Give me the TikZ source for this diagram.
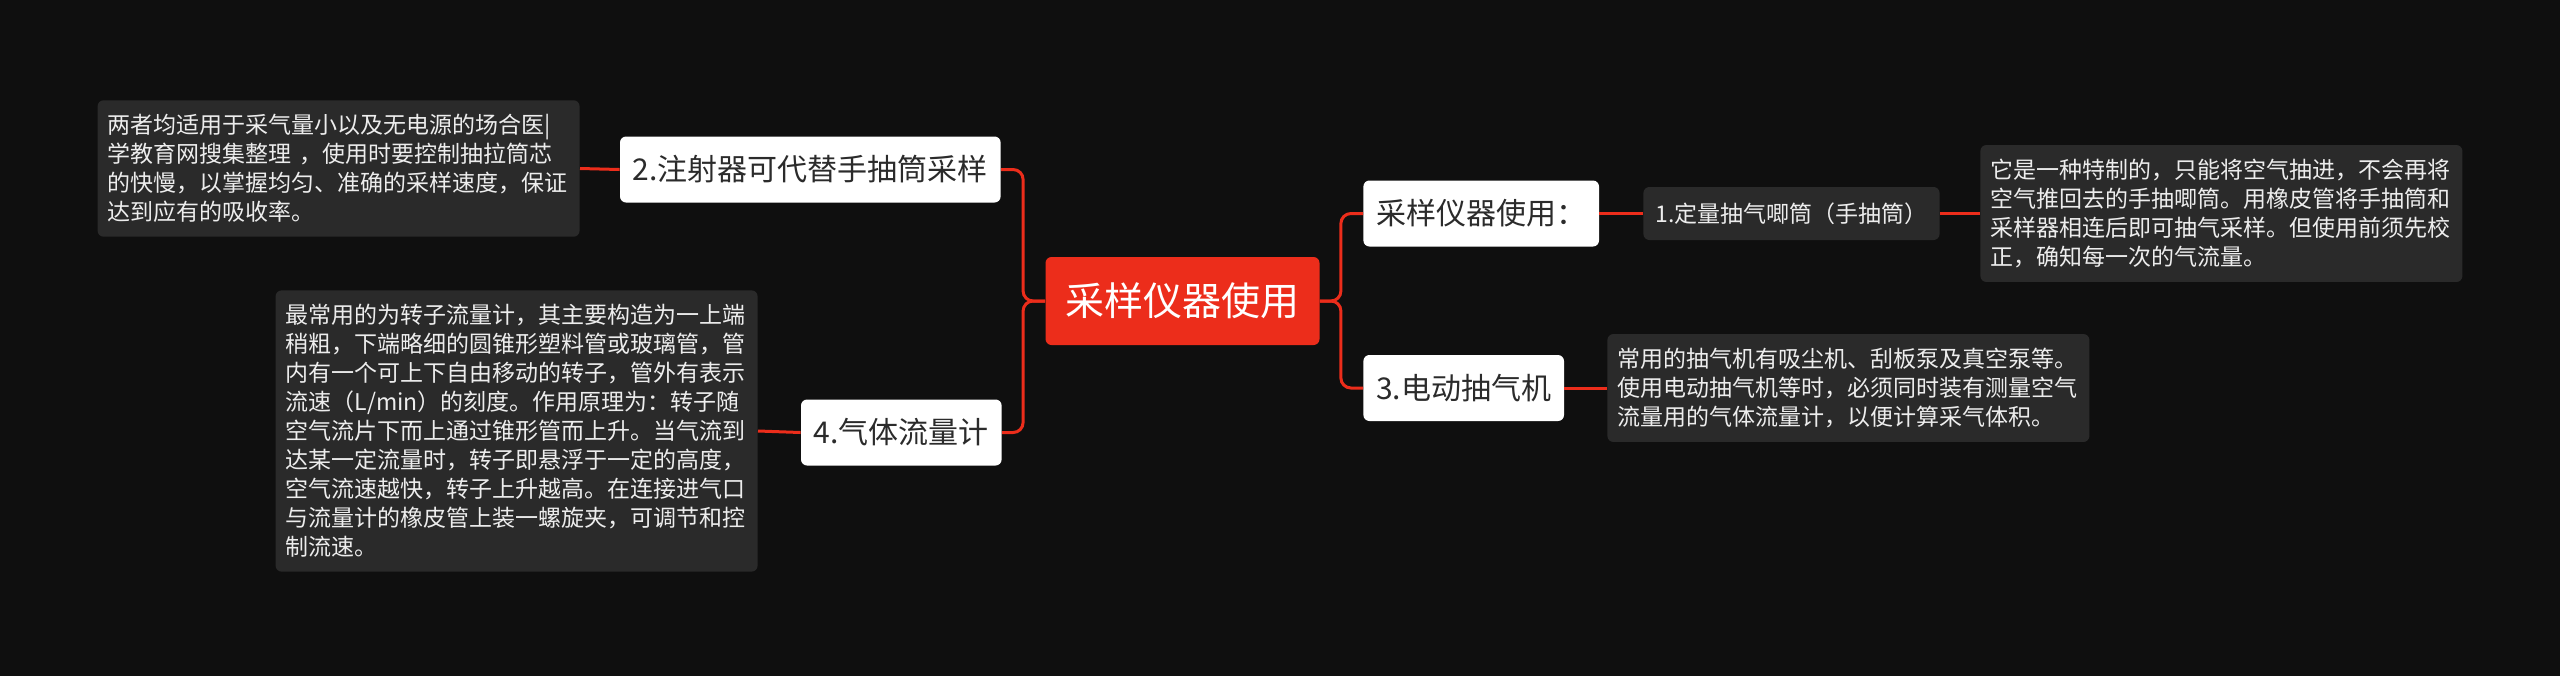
\documentclass[tikz,border=0pt]{standalone}
\usepackage{fontspec}
\setmainfont{Noto Sans CJK SC}
\usepackage{tikz}
\definecolor{bgdark}{HTML}{0F0F0F}
\definecolor{rootred}{HTML}{EC2D1B}
\definecolor{notegray}{HTML}{2A2A2A}
\definecolor{topictext}{HTML}{2B2B2B}
\definecolor{notetext}{HTML}{EDEDED}

\begin{document}
\begin{tikzpicture}[x=0.5pt,y=-0.5pt,
    rootbox/.style={fill=rootred,text=white,rounded corners=3pt,inner xsep=10pt,
      minimum height=44pt,font=\fontsize{19.5}{23}\selectfont},
    topicbox/.style={fill=white,text=topictext,rounded corners=3pt,inner xsep=6.4pt,
      minimum height=33pt,font=\fontsize{15}{18}\selectfont},
    subbox/.style={fill=notegray,text=notetext,rounded corners=3pt,inner xsep=6pt,
      minimum height=26.5pt,font=\fontsize{11.5}{14}\selectfont},
    notebox/.style={fill=notegray,text=notetext,rounded corners=3pt,inner xsep=5pt,
      inner ysep=7pt,text width=231pt,align=left,font=\fontsize{11.5}{14.5}\selectfont},
    link/.style={draw=rootred,line width=1.5pt,rounded corners=5pt}]
    \fill[bgdark] (0,0) rectangle (2560,676);
    \useasboundingbox (0,0) rectangle (2560,676);
    % centre
    \node[rootbox] (root) at (1182.5,301) {采样仪器使用};
    % left side
    \node[topicbox,anchor=east] (syringe) at (1001,169.5) {2.注射器可代替手抽筒采样};
    \node[notebox,anchor=east] (syringenote) at (580,168.5) {两者均适用于采气量小以及无电源的场合医|\\学教育网搜集整理 ，使用时要控制抽拉筒芯\\的快慢，以掌握均匀、准确的采样速度，保证\\达到应有的吸收率。};
    \node[topicbox,anchor=east] (meter) at (1002,432.5) {4.气体流量计};
    \node[notebox,anchor=east] (meternote) at (758,431) {最常用的为转子流量计，其主要构造为一上端\\稍粗，下端略细的圆锥形塑料管或玻璃管，管\\内有一个可上下自由移动的转子，管外有表示\\流速（L/min）的刻度。作用原理为：转子随\\空气流片下而上通过锥形管而上升。当气流到\\达某一定流量时，转子即悬浮于一定的高度，\\空气流速越快，转子上升越高。在连接进气口\\与流量计的橡皮管上装一螺旋夹，可调节和控\\制流速。};
    % right side
    \node[topicbox,anchor=west] (usage) at (1363,213.5) {采样仪器使用：};
    \node[subbox,anchor=west] (pump) at (1643,213.5) {1.定量抽气唧筒（手抽筒）};
    \node[notebox,anchor=west] (pumpnote) at (1980,213.5) {它是一种特制的，只能将空气抽进，不会再将\\空气推回去的手抽唧筒。用橡皮管将手抽筒和\\采样器相连后即可抽气采样。但使用前须先校\\正，确知每一次的气流量。};
    \node[topicbox,anchor=west] (motor) at (1363,388) {3.电动抽气机};
    \node[notebox,anchor=west] (motornote) at (1607,388) {常用的抽气机有吸尘机、刮板泵及真空泵等。\\使用电动抽气机等时，必须同时装有测量空气\\流量用的气体流量计，以便计算采气体积。};
    % connectors
    \draw[link] (root.west) -- ++(-22,0) |- (syringe.east);
    \draw[link] (root.west) -- ++(-22,0) |- (meter.east);
    \draw[link] (root.east) -- ++(21,0) |- (usage.west);
    \draw[link] (root.east) -- ++(21,0) |- (motor.west);
    \draw[link] (syringe.west) -- (syringenote.east);
    \draw[link] (meter.west) -- (meternote.east);
    \draw[link] (usage.east) -- (pump.west);
    \draw[link] (pump.east) -- (pumpnote.west);
    \draw[link] (motor.east) -- (motornote.west);
\end{tikzpicture}
\end{document}
